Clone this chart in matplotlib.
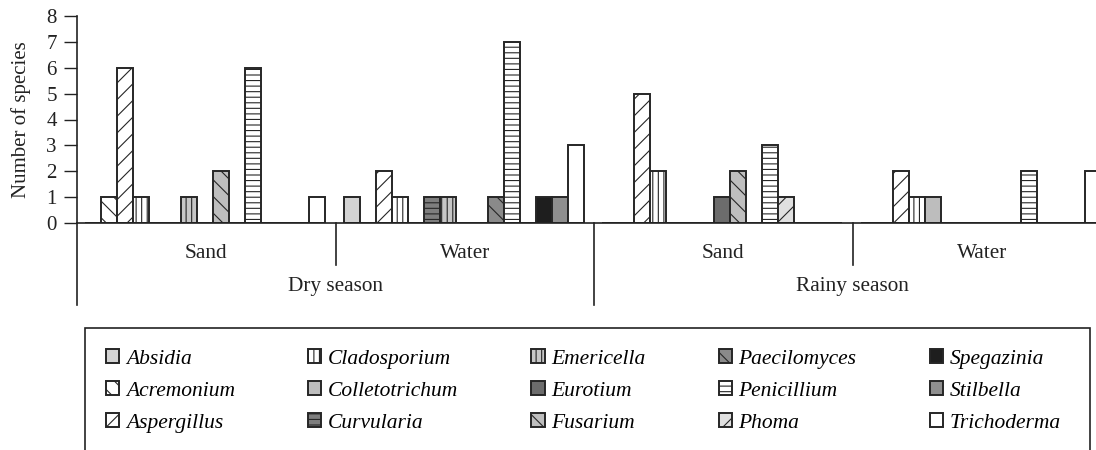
import matplotlib

matplotlib.use("Agg")
import matplotlib.pyplot as plt  # noqa: E402
from matplotlib.patches import Rectangle  # noqa: E402
from matplotlib.transforms import blended_transform_factory  # noqa: E402

# ---------------------------------------------------------------------------
# Data: fungal genera counted per habitat / season
# ---------------------------------------------------------------------------

genera = ["Absidia", "Acremonium", "Aspergillus", "Cladosporium",
          "Colletotrichum", "Curvularia", "Emericella", "Eurotium",
          "Fusarium", "Paecilomyces", "Penicillium", "Phoma",
          "Spegazinia", "Stilbella", "Trichoderma"]

dry_sand = [0, 1, 6, 1, 0, 0, 1, 0, 2, 0, 6, 0, 0, 0, 1]
dry_water = [1, 0, 2, 1, 0, 1, 1, 0, 0, 1, 7, 0, 1, 1, 3]
rainy_sand = [0, 0, 5, 2, 0, 0, 0, 1, 2, 0, 3, 1, 0, 0, 0]
rainy_water = [0, 0, 2, 1, 1, 0, 0, 0, 0, 0, 2, 0, 0, 0, 2]

habitats = ["Sand", "Water", "Sand", "Water"]
seasons = ["Dry season", "Rainy season"]

# fill colour and hatch for every genus
fills = ["#d3d3d3", "white", "white", "white", "#bdbdbd", "#7e7e7e",
         "#c6c6c6", "#6c6c6c", "#bebebe", "#8a8a8a", "white", "#e0e0e0",
         "#1e1e1e", "#8f8f8f", "white"]
hatches = ["", "\\\\", "//", "|||", "", "---", "|||", "", "\\\\", "\\\\",
           "---", "//", "", "", ""]

plt.rcParams["font.family"] = ["Liberation Serif", "DejaVu Serif"]
plt.rcParams["hatch.linewidth"] = 0.8

EDGE = "#262626"
GROUP_W = 16.16

fig = plt.figure(figsize=(10.96, 4.5), dpi=100)
ax = fig.add_axes([77 / 1096, 227 / 450, 1 - 77 / 1096, 207 / 450])

groups = [dry_sand, dry_water, rainy_sand, rainy_water]
handles = []
for k, name in enumerate(genera):
    xs = [g * GROUP_W + 1.0 + k for g in range(len(groups))]
    hs = [grp[k] for grp in groups]
    bars = ax.bar(xs, hs, width=1.0, color=fills[k], edgecolor=EDGE,
                  linewidth=1.4, hatch=hatches[k], label=name, zorder=2)
    handles.append(bars)

ax.set_xlim(0, (1096 - 77) / 16)
ax.set_ylim(0, 8)
ax.set_yticks(range(0, 9))
ax.set_xticks([])
ax.tick_params(axis="y", direction="out", length=9.5, width=1.0,
               labelsize=15, pad=5, colors="#222222")
ax.set_ylabel("Number of species", fontsize=15, labelpad=11, color="#222222")
for side in ("top", "right"):
    ax.spines[side].set_visible(False)
for side in ("left", "bottom"):
    ax.spines[side].set_color("#222222")
    ax.spines[side].set_linewidth(1.2)

# two-level category axis below the baseline
trans = blended_transform_factory(ax.transData, ax.transAxes)
for g, lab in enumerate(habitats):
    ax.text((g + 0.5) * GROUP_W, -30 / 207, lab, transform=trans,
            ha="center", va="center", fontsize=15.3, color="#222222")
for s, lab in enumerate(seasons):
    ax.text((2 * s + 1) * GROUP_W, -63 / 207, lab, transform=trans,
            ha="center", va="center", fontsize=15.3, color="#222222")
for g in range(4):
    depth = -82 / 207 if g % 2 == 0 else -42 / 207
    ax.plot([g * GROUP_W, g * GROUP_W], [0, depth], transform=trans,
            color="#222222", lw=1.2, clip_on=False)

# legend in an open-bottomed box
fig.add_artist(Rectangle((85 / 1096, -0.1), (1090 - 85) / 1096,
                         0.1 + 1 - 328 / 450, transform=fig.transFigure,
                         fill=False, edgecolor="#222222", lw=1.2))
fig.legend(handles, genera, ncol=5, loc="upper left",
           bbox_to_anchor=(106 / 1096, 1 - 349 / 450), frameon=False,
           borderpad=0, borderaxespad=0, handlelength=0.62,
           handleheight=0.62, handletextpad=0.3, columnspacing=3.4,
           labelspacing=0.58,
           prop={"family": ["Liberation Serif"], "style": "italic",
                 "size": 15.5})

fig.savefig("out.png", dpi=100, facecolor="white")
plt.close(fig)
